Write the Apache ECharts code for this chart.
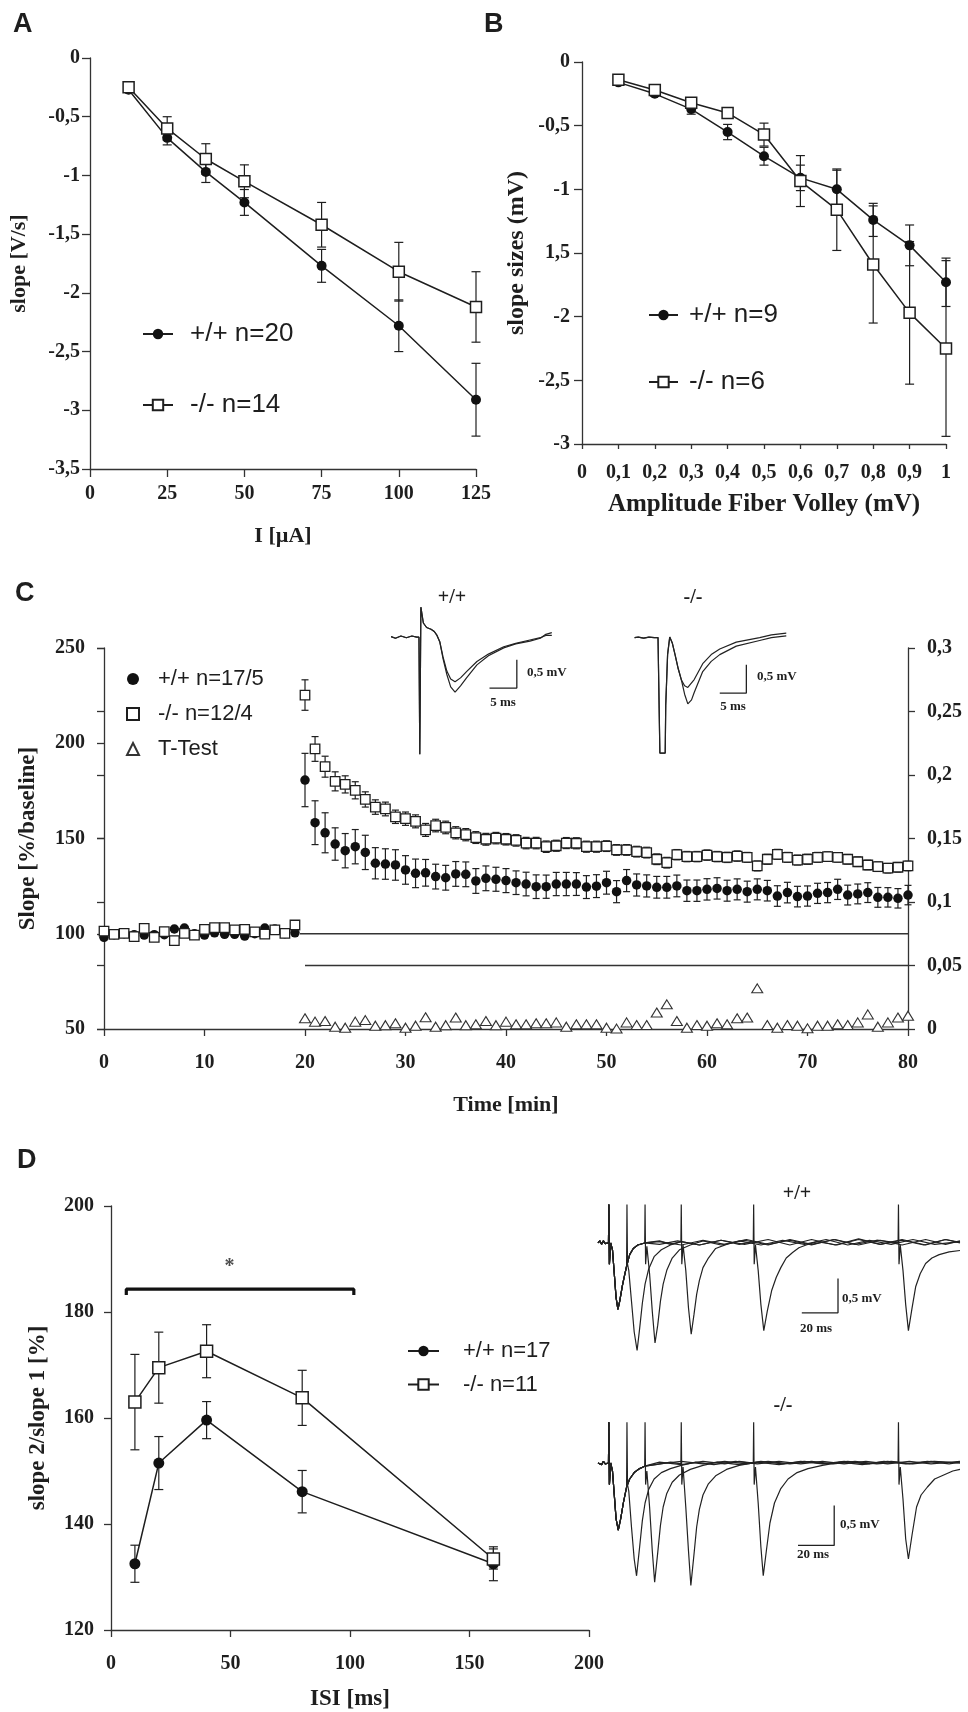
<!DOCTYPE html>
<html><head><meta charset="utf-8">
<script src="https://cdn.jsdelivr.net/npm/echarts@6/dist/echarts.min.js"></script>
<style>html,body{margin:0;padding:0;background:#fff}#c{width:968px;height:1712px}</style>
</head><body><div id="c"></div>
<script>
// ---------------- Panel A ----------------
const xA = [12.5, 25, 37.5, 50, 75, 100, 125];
const wtA = [-0.27, -0.68, -0.97, -1.23, -1.77, -2.28, -2.91];
const wtAerr = [0, 0.06, 0.09, 0.11, 0.14, 0.22, 0.31];
const koA = [-0.25, -0.6, -0.86, -1.05, -1.42, -1.82, -2.12];
const koAerr = [0, 0.1, 0.13, 0.14, 0.19, 0.25, 0.3];
const ticksAy = ['0', '-0,5', '-1', '-1,5', '-2', '-2,5', '-3', '-3,5'];

// ---------------- Panel B ----------------
const xB = [0.1, 0.2, 0.3, 0.4, 0.5, 0.6, 0.7, 0.8, 0.9, 1.0];
const wtB = [-0.16, -0.25, -0.37, -0.55, -0.74, -0.91, -1.0, -1.24, -1.44, -1.73];
const wtBerr = [0.01, 0.02, 0.04, 0.06, 0.07, 0.1, 0.15, 0.13, 0.16, 0.19];
const koB = [-0.14, -0.22, -0.32, -0.4, -0.57, -0.935, -1.16, -1.59, -1.97, -2.25];
const koBerr = [0.01, 0.02, 0.02, 0.02, 0.09, 0.2, 0.32, 0.46, 0.56, 0.69];
const ticksBx = ['0', '0,1', '0,2', '0,3', '0,4', '0,5', '0,6', '0,7', '0,8', '0,9', '1'];
const ticksBy = ['0', '-0,5', '-1', '1,5', '-2', '-2,5', '-3'];

// ---------------- Panel C ----------------
const tC = [0,1,2,3,4,5,6,7,8,9,10,11,12,13,14,15,16,17,18,19,20,21,22,23,24,25,26,27,28,29,30,31,32,33,34,35,36,37,38,39,40,41,42,43,44,45,46,47,48,49,50,51,52,53,54,55,56,57,58,59,60,61,62,63,64,65,66,67,68,69,70,71,72,73,74,75,76,77,78,79,80];
const wtC = [98.1,99.5,100,99.5,99.3,99.5,99.5,102.5,103,100,99.3,100.5,99.7,99.7,98.8,100,103,102.5,100,100.5,
  180.7,158.3,153,147.1,143.6,145.7,142.7,137,136.6,136.1,133.5,131.7,132,130,129.4,131.4,131.2,127.7,129.1,128.6,
  127.9,126.8,126.1,124.7,124.7,126.1,126.1,126.1,124.5,125,
  126.8,122.1,127.9,125.6,125.1,124.4,124.4,125.1,122.6,122.6,123.3,123.8,122.6,123.3,122.1,123.3,122.6,119.8,121.6,119.5,
  119.8,121.2,121.6,123.3,120.3,120.9,121.6,119.1,119.1,118.6,120.3];
const wtCerr = [0,0,0,0,0,0,0,0,0,0,0,0,0,0,0,0,0,0,0,0,
  14,11.5,10.5,8.5,9,9,9,8.2,8,8,7.5,7.5,7,6.5,6.5,6.5,6.5,6.5,6.5,6.3,
  6.3,6.2,6.2,6.2,6.1,6.1,6.1,6,6,6,
  6,5.8,5.8,5.8,5.8,5.7,5.7,5.7,5.6,5.6,5.6,5.6,5.5,5.5,5.5,5.5,5.4,5.4,5.4,5.4,
  5.3,5.3,5.3,5.3,5.2,5.2,5.2,5.2,5.1,5.1,5.1];
const koC = [101.4,99.7,100.2,98.5,102.8,98.1,101.1,96.4,100.2,99.3,102.3,103.2,103.2,102,102.3,101,99.8,102,100.2,104.6,
  225.3,197,187.7,180,178.4,175.3,170.5,166.5,165.5,161.4,160.4,159,154.5,156.8,155.8,153,152,150.5,149.6,150.2,
  149.6,149,147.6,147.6,145.7,146.2,147.6,147.5,145.7,145.7,
  146,144,144,143.1,142.6,139.1,137.3,141.5,140.5,140.5,141.3,140.5,140.1,140.8,140.1,135.6,139.1,141.7,140.1,138.7,
  139.1,140.1,140.5,140.1,139.1,137.8,136.1,135.2,134.4,134.9,135.6];
const koCerr = [0,0,0,0,0,0,0,0,0,0,0,0,0,0,0,0,0,0,0,0,
  8,6.5,5.5,5,4.5,4.5,4,3.8,3.6,3.5,3.5,3.4,3.4,3.3,3.3,3.2,3.2,3.1,3.1,3,
  3,3,3,3,3,2.9,2.9,2.9,2.9,2.9,
  2.8,2.8,2.8,2.8,2.8,2.8,2.8,2.7,2.7,2.7,2.7,2.7,2.7,2.7,2.6,2.6,2.6,2.6,2.6,2.6,
  2.6,2.6,2.5,2.5,2.5,2.5,2.5,2.5,2.5,2.5,2.5];
const tT = [20,21,22,23,24,25,26,27,28,29,30,31,32,33,34,35,36,37,38,39,40,41,42,43,44,45,46,47,48,49,50,51,52,53,54,55,56,57,58,59,60,61,62,63,64,65,66,67,68,69,70,71,72,73,74,75,76,77,78,79,80];
const tTest = [0.0084,0.0058,0.0063,0.0018,0.001,0.0058,0.007,0.0026,0.003,0.0045,0.001,0.0026,0.0092,0.0018,0.003,0.009,0.003,0.0037,0.0063,0.003,
  0.0058,0.0037,0.0037,0.0045,0.0045,0.0052,0.0018,0.0037,0.0037,0.0037,
  0.001,0.0003,0.0052,0.0031,0.0031,0.013,0.0194,0.0063,0.001,0.0031,0.0026,0.0045,0.0037,0.0084,0.009,0.032,0.0031,0.001,0.0031,0.0026,
  0.0005,0.0026,0.0026,0.0037,0.0031,0.0052,0.0115,0.0018,0.0052,0.009,0.0105];
const ticksCr = ['0', '0,05', '0,1', '0,15', '0,2', '0,25', '0,3'];
const refLine100 = [[19.5, 100], [80, 100]];
const refLineP = [[20, 0.05], [80, 0.05]];

// Panel C inset traces (t in ms, mV)
const insWThead = [[-5.3,0.01],[-4.5,-0.02],[-3.5,0.02],[-2.5,-0.01],[-1.5,0.02],[-0.6,0],[-0.2,0],[-0.05,-2.07],[0.05,-2.07],[0.15,0.53],[0.35,0.53],[0.6,0.25],[1.2,0.17],[2,0.14],[2.6,0.1],[3.1,0.03],[3.6,-0.08]];
const insWTtailA = [[4.2,-0.35],[4.9,-0.6],[5.6,-0.74],[6.4,-0.79],[7.4,-0.72],[8.5,-0.61],[10.4,-0.43],[12.5,-0.3],[15.3,-0.17],[17.5,-0.11],[20.1,-0.05],[22,-0.01],[23,0.03],[24.1,0.03]];
const insWTtailB = [[4.2,-0.38],[4.9,-0.66],[5.6,-0.88],[6.4,-0.97],[7.4,-0.86],[8.5,-0.72],[10.4,-0.49],[12.5,-0.33],[15.3,-0.19],[17.5,-0.12],[20.1,-0.07],[22,-0.02],[23,0.05],[24.1,0.08]];
const insWTbar = [[12.7,-0.9],[17.7,-0.9],[17.7,-0.4]];
const insKOhead = [[-4.7,0],[-4,0.01],[-3,-0.01],[-2,0.01],[-1,0],[-0.3,0],[0,0],[0.05,-2.04],[1.05,-2.04],[1.15,-1.2],[1.5,-0.3],[1.9,0.01],[2.4,-0.1],[2.9,-0.3],[3.5,-0.55],[4.1,-0.75]];
const insKOtailA = [[4.7,-0.85],[5.3,-0.88],[6.5,-0.74],[8.1,-0.46],[9.7,-0.3],[11.3,-0.2],[14.4,-0.08],[18.8,0],[21,0.05],[23.8,0.08]];
const insKOtailB = [[4.7,-1.0],[5.3,-1.17],[6,-1.1],[6.5,-0.97],[8.1,-0.6],[9.7,-0.42],[11.3,-0.3],[14.4,-0.15],[18.8,-0.05],[21,0],[23.8,0.03]];
const insKObar = [[11.3,-0.98],[16.3,-0.98],[16.3,-0.48]];

// ---------------- Panel D ----------------
const xD = [10, 20, 40, 80, 160];
const wtD = [132.5, 151.5, 159.6, 146.1, 132.5];
const wtDerr = [3.5, 5, 3.5, 4, 3.2];
const koD = [163, 169.5, 172.6, 163.8, 133.4];
const koDerr = [9, 6.7, 5, 5.2, 1.9];
const sigBar = [[6.4, 183.2], [6.4, 184.3], [101.6, 184.3], [101.6, 183.2]];
const sigStar = [[49.6, 188.6]];

// Panel D paired-pulse traces (t in ms, mV)
const dWThead = [[-6,0],[-5,0.03],[-4,-0.02],[-3,0.03],[-2,-0.01],[-0.2,0],[0,0.56],[0.3,-0.31],[1,0],[2,-0.1],[3,-0.45],[4,-0.8],[5,-0.97],[6,-0.85],[7.5,-0.62],[8.7,-0.47],[9.8,-0.34]];
const dWTcont = [[10,-0.32],[11.5,-0.17],[13.5,-0.08],[16,-0.03],[19.8,0]];
const dWT10 = [[10,0.56],[10.3,-0.31],[11,-0.4],[12.5,-0.85],[14,-1.3],[15.6,-1.57],[17,-1.25],[18.5,-0.88],[20,-0.6],[22,-0.38],[25,-0.2],[29,-0.1],[34,-0.03],[40,0.02],[50,-0.03],[62,0.04],[75,-0.02],[88,0.05],[100,-0.03],[112,0.05],[125,-0.03],[138,0.06],[150,-0.02],[162,0.05],[175,-0.03],[186,0.05],[194,0.01]];
const dWT20 = [[20,0.56],[20.3,-0.31],[21,-0.05],[22.5,-0.45],[24,-1.0],[25.5,-1.46],[27,-1.2],[28.5,-0.85],[30,-0.6],[32,-0.4],[35,-0.22],[39,-0.1],[45,-0.03],[52,0.03],[62,-0.03],[75,0.04],[88,-0.03],[100,0.05],[112,-0.02],[125,0.05],[138,-0.03],[150,0.04],[162,-0.03],[175,0.05],[186,-0.02],[194,0.03]];
const dWT40 = [[28,0.03],[34,-0.02],[39.8,0.02],[40,0.56],[40.3,-0.31],[41,-0.03],[42.5,-0.4],[44,-0.95],[45.5,-1.33],[47,-1.05],[48.5,-0.75],[50,-0.55],[52,-0.36],[55,-0.22],[59,-0.08],[65,-0.02],[72,0.03],[84,-0.03],[96,0.04],[108,-0.02],[120,0.05],[132,-0.03],[144,0.04],[156,-0.02],[168,0.05],[180,-0.02],[194,0.02]];
const dWT80 = [[28,-0.02],[38,0.03],[50,-0.03],[62,0.04],[72,-0.02],[79.8,0.02],[80,0.56],[80.3,-0.31],[81,-0.03],[82.5,-0.4],[84,-0.9],[85.6,-1.28],[87.5,-1.0],[90,-0.69],[92.5,-0.5],[95,-0.36],[98,-0.22],[101.5,-0.14],[105,-0.07],[109,-0.03],[115,0.02],[126,-0.03],[138,0.05],[150,-0.02],[162,0.04],[174,-0.03],[186,0.05],[194,0]];
const dWT160 = [[28,0.02],[40,-0.03],[52,0.04],[64,-0.02],[76,0.05],[88,-0.02],[100,0.04],[112,-0.03],[124,0.05],[136,-0.02],[148,0.04],[159.8,0],[160,0.56],[160.3,-0.31],[161,-0.03],[162.5,-0.4],[164,-0.9],[165.5,-1.28],[167.5,-0.95],[169.5,-0.64],[172,-0.45],[175,-0.3],[178.5,-0.22],[182.5,-0.17],[188,-0.13],[194,-0.11]];
const dWTbar = [[106.6,-1.02],[126.6,-1.02],[126.6,-0.52]];

const dKOhead = [[-6,0],[-5,0.02],[-4,-0.02],[-3,0.02],[-2,-0.01],[-0.2,0],[0,0.51],[0.3,-0.27],[1,0],[2,-0.1],[3,-0.4],[4,-0.7],[5.2,-0.84],[6.5,-0.7],[8,-0.5],[9.8,-0.3]];
const dKOcont = [[11.5,-0.2],[14,-0.12],[17,-0.07],[19.8,-0.04]];
const dKO10 = [[10,0.51],[10.3,-0.27],[11,-0.35],[12.5,-0.8],[14,-1.2],[15.3,-1.41],[17,-1.05],[18.5,-0.72],[20,-0.5],[22,-0.33],[25,-0.2],[29,-0.12],[34,-0.07],[40,-0.03],[48,0.01],[58,-0.02],[70,0.02],[82,-0.01],[94,0.02],[106,-0.01],[118,0.02],[130,-0.01],[142,0.02],[154,-0.01],[166,0.02],[178,-0.01],[194,0.02]];
const dKO20 = [[20,0.51],[20.3,-0.27],[21,-0.1],[22.5,-0.55],[24,-1.1],[25.3,-1.49],[27,-1.12],[28.5,-0.78],[30,-0.55],[32,-0.38],[35,-0.24],[39,-0.15],[45,-0.08],[52,-0.03],[60,0.01],[72,-0.02],[84,0.02],[96,-0.01],[108,0.02],[120,-0.01],[132,0.02],[144,-0.01],[156,0.02],[168,-0.01],[180,0.02],[194,0]];
const dKO40 = [[26,-0.02],[34,0.01],[39.8,-0.01],[40,0.51],[40.3,-0.27],[41,-0.05],[42.5,-0.55],[44,-1.1],[45.3,-1.53],[47,-1.15],[48.5,-0.8],[50,-0.58],[52,-0.4],[55,-0.26],[59,-0.16],[65,-0.08],[72,-0.03],[82,0.01],[94,-0.02],[106,0.02],[118,-0.01],[130,0.02],[142,-0.01],[154,0.02],[166,-0.01],[178,0.02],[194,0]];
const dKO80 = [[28,0.01],[40,-0.02],[52,0.02],[64,-0.01],[72,0.02],[79.8,0],[80,0.51],[80.3,-0.27],[81,-0.05],[82.5,-0.5],[84,-1.05],[85.3,-1.41],[87,-1.1],[89,-0.75],[91.5,-0.5],[95,-0.32],[99,-0.2],[104,-0.12],[110,-0.07],[118,-0.03],[128,0.01],[140,-0.02],[152,0.02],[164,-0.01],[176,0.02],[188,-0.01],[194,0.01]];
const dKO160 = [[28,-0.01],[40,0.02],[52,-0.01],[64,0.02],[76,-0.01],[88,0.02],[100,-0.01],[112,0.02],[124,-0.01],[136,0.02],[148,-0.01],[159.8,0.01],[160,0.51],[160.3,-0.27],[161,-0.05],[162.5,-0.45],[164,-0.95],[165.5,-1.2],[167.5,-0.9],[170,-0.55],[172.5,-0.4],[176,-0.3],[180,-0.2],[185,-0.15],[190,-0.1],[194,-0.08]];
const dKObar = [[104.5,-1.03],[124.5,-1.03],[124.5,-0.53]];

// ---------------- helpers ----------------
const INK = '#1e1e1e';
const SERIF = '"Liberation Serif", "Times New Roman", serif';
const SANS = '"Liberation Sans", Arial, sans-serif';
const tickFont = (s) => ({fontFamily: SERIF, fontWeight: 'bold', fontSize: s, color: INK});
const zip = (xs, ys) => xs.map((x, i) => [x, ys[i]]);

function errBar(id, xi, yi, xs, ys, es, capW) {
  const data = [];
  xs.forEach((x, i) => { if (es[i] > 0) data.push([x, ys[i] - es[i], ys[i] + es[i]]); });
  return {
    type: 'custom', name: id, xAxisIndex: xi, yAxisIndex: yi, data, z: 2, silent: true,
    encode: {x: 0, y: [1, 2]},
    renderItem: (p, api) => {
      const x = api.value(0);
      const a = api.coord([x, api.value(1)]);
      const b = api.coord([x, api.value(2)]);
      const h = capW / 2;
      const st = {stroke: INK, lineWidth: 1.2};
      return {type: 'group', children: [
        {type: 'line', shape: {x1: a[0], y1: a[1], x2: b[0], y2: b[1]}, style: st},
        {type: 'line', shape: {x1: a[0] - h, y1: a[1], x2: a[0] + h, y2: a[1]}, style: st},
        {type: 'line', shape: {x1: b[0] - h, y1: b[1], x2: b[0] + h, y2: b[1]}, style: st}
      ]};
    }
  };
}
function valAxis(o) {
  return Object.assign({
    type: 'value', splitLine: {show: false},
    axisLine: {show: true, onZero: false, lineStyle: {color: '#333', width: 1.3}},
    axisTick: {show: true, length: 7, lineStyle: {color: '#333', width: 1.3}},
    nameTextStyle: {fontFamily: SERIF, fontWeight: 'bold', fontSize: 22, color: INK},
    nameLocation: 'middle'
  }, o);
}
function hidden(gi, min, max) {
  return {type: 'value', gridIndex: gi, min, max, show: false, splitLine: {show: false}};
}
function lineSer(name, xi, yi, xs, ys, filled, size) {
  return {
    type: 'line', name, xAxisIndex: xi, yAxisIndex: yi, data: zip(xs, ys),
    symbol: filled ? 'circle' : 'rect', symbolSize: size, z: filled ? 3 : 4,
    lineStyle: {color: INK, width: 1.5},
    itemStyle: filled ? {color: '#111', borderColor: '#111', borderWidth: 0}
                      : {color: '#fff', borderColor: INK, borderWidth: 1.5},
    animation: false
  };
}
function trace(name, xi, yi, data, w) {
  return {type: 'line', name, xAxisIndex: xi, yAxisIndex: yi, data, symbol: 'none',
    lineStyle: {color: '#222', width: w || 1.2}, z: 3, silent: true};
}
function T(text, x, y, size, opt) {
  opt = opt || {};
  const al = opt.align || 'left';
  return {type: 'text', x, y, silent: true, z: 20,
    style: {text, fill: INK, font: (opt.weight || 'bold') + ' ' + size + 'px ' + (opt.family || SERIF),
      align: al, verticalAlign: 'middle', textAlign: al, textVerticalAlign: 'middle'}};
}
const G = (left, top, width, height) => ({left, top, width, height, containLabel: false, outerBoundsMode: 'none'});

// ---------------- option ----------------
const option = {
  backgroundColor: '#fff',
  animation: false,
  grid: [
    G(90, 58, 386, 411),      // 0 A
    G(582, 62, 364, 382),     // 1 B
    G(104, 648, 804, 381),    // 2 C
    G(390, 606, 164, 150),    // 3 C inset +/+
    G(633, 606.5, 157, 150),  // 4 C inset -/-
    G(111, 1206, 478, 424),   // 5 D
    G(598, 1195, 362, 161),   // 6 D +/+ traces
    G(598, 1415, 362, 176)    // 7 D -/- traces
  ],
  xAxis: [
    valAxis({gridIndex: 0, min: 0, max: 125, interval: 25, name: 'I [µA]', nameGap: 56,
      axisTick: {show: true, length: 8, lineStyle: {color: '#333', width: 1.3}},
      axisLabel: Object.assign({margin: 15}, tickFont(20))}),
    valAxis({gridIndex: 1, min: 0, max: 1, interval: 0.1, name: 'Amplitude Fiber Volley (mV)', nameGap: 48,
      nameTextStyle: {fontFamily: SERIF, fontWeight: 'bold', fontSize: 25, color: INK},
      axisTick: {show: true, length: 5, lineStyle: {color: '#333', width: 1.3}},
      axisLabel: Object.assign({margin: 19, formatter: v => ticksBx[Math.round(v * 10)] || ''}, tickFont(20))}),
    valAxis({gridIndex: 2, min: 0, max: 80, interval: 10, name: 'Time [min]', nameGap: 65,
      axisLabel: Object.assign({margin: 24}, tickFont(20))}),
    hidden(3, -5.5, 24.5),
    hidden(4, -5, 24.5),
    valAxis({gridIndex: 5, min: 0, max: 200, interval: 50, name: 'ISI [ms]', nameGap: 58,
      nameTextStyle: {fontFamily: SERIF, fontWeight: 'bold', fontSize: 23, color: INK},
      axisLabel: Object.assign({margin: 24}, tickFont(20))}),
    hidden(6, -6, 194),
    hidden(7, -6, 194)
  ],
  yAxis: [
    valAxis({gridIndex: 0, min: -3.5, max: 0, interval: 0.5, name: 'slope [V/s]', nameGap: 60,
      axisTick: {show: true, length: 8, lineStyle: {color: '#333', width: 1.3}},
      axisLabel: Object.assign({margin: 10, formatter: v => ticksAy[Math.round(-v / 0.5)] || ''}, tickFont(20))}),
    valAxis({gridIndex: 1, min: -3, max: 0, interval: 0.5, name: 'slope sizes (mV)', nameGap: 53,
      nameTextStyle: {fontFamily: SERIF, fontWeight: 'bold', fontSize: 24, color: INK},
      axisTick: {show: true, length: 8, lineStyle: {color: '#333', width: 1.3}},
      axisLabel: Object.assign({margin: 12, formatter: v => ticksBy[Math.round(-v / 0.5)] || ''}, tickFont(20))}),
    valAxis({gridIndex: 2, min: 50, max: 250, interval: 50, name: 'Slope [%/baseline]', nameGap: 64,
      nameTextStyle: {fontFamily: SERIF, fontWeight: 'bold', fontSize: 23, color: INK},
      axisLabel: Object.assign({margin: 19}, tickFont(20))}),
    valAxis({gridIndex: 2, min: 0, max: 0.3, interval: 0.05, position: 'right',
      axisLabel: Object.assign({margin: 19, formatter: v => ticksCr[Math.round(v / 0.05)] || ''}, tickFont(20))}),
    valAxis({gridIndex: 2, min: 0, max: 0.3, interval: 0.05, position: 'right',
      axisLine: {show: false}, axisLabel: {show: false},
      axisTick: {show: true, inside: true, length: 7, lineStyle: {color: '#333', width: 1.3}}}),
    hidden(3, -2.1, 0.55),
    hidden(4, -2.1, 0.55),
    valAxis({gridIndex: 5, min: 120, max: 200, interval: 20, name: 'slope 2/slope 1 [%]', nameGap: 61,
      nameTextStyle: {fontFamily: SERIF, fontWeight: 'bold', fontSize: 23, color: INK},
      axisLabel: Object.assign({margin: 17}, tickFont(20))}),
    hidden(6, -1.65, 0.7),
    hidden(7, -1.6, 0.6)
  ],
  legend: [
    {left: 137, top: 316, orient: 'vertical', itemWidth: 30, itemHeight: 13, itemGap: 45, selectedMode: false,
      data: ['+/+ n=20', '-/- n=14'],
      textStyle: {fontFamily: SANS, fontSize: 26, color: INK, lineHeight: 26, padding: [0, 0, 0, 12]}},
    {left: 643, top: 297, orient: 'vertical', itemWidth: 29, itemHeight: 13, itemGap: 41, selectedMode: false,
      data: ['+/+ n=9', '-/- n=6'],
      textStyle: {fontFamily: SANS, fontSize: 26, color: INK, lineHeight: 26, padding: [0, 0, 0, 6]}},
    {left: 121, top: 661, orient: 'vertical', itemWidth: 12, itemHeight: 12, itemGap: 9, selectedMode: false,
      data: ['+/+ n=17/5', '-/- n=12/4', 'T-Test'],
      textStyle: {fontFamily: SANS, fontSize: 22, color: INK, lineHeight: 26, padding: [0, 0, 0, 14]}},
    {left: 402, top: 1333, orient: 'vertical', itemWidth: 31, itemHeight: 13, itemGap: 7.5, selectedMode: false,
      data: ['+/+ n=17', '-/- n=11'],
      textStyle: {fontFamily: SANS, fontSize: 22, color: INK, lineHeight: 26, padding: [0, 0, 0, 19]}}
  ],
  series: [
    // A
    errBar('errA1', 0, 0, xA, wtA, wtAerr, 9),
    errBar('errA2', 0, 0, xA, koA, koAerr, 9),
    lineSer('+/+ n=20', 0, 0, xA, wtA, true, 10),
    lineSer('-/- n=14', 0, 0, xA, koA, false, 11),
    // B
    errBar('errB1', 1, 1, xB, wtB, wtBerr, 9),
    errBar('errB2', 1, 1, xB, koB, koBerr, 9),
    lineSer('+/+ n=9', 1, 1, xB, wtB, true, 10),
    lineSer('-/- n=6', 1, 1, xB, koB, false, 11),
    // C
    {type: 'line', name: 'ref100', xAxisIndex: 2, yAxisIndex: 2, data: refLine100, symbol: 'none',
      lineStyle: {color: '#333', width: 1.3}, z: 1, silent: true},
    {type: 'line', name: 'refP', xAxisIndex: 2, yAxisIndex: 3, data: refLineP, symbol: 'none',
      lineStyle: {color: '#333', width: 1.3}, z: 1, silent: true},
    errBar('errC1', 2, 2, tC, wtC, wtCerr, 7),
    errBar('errC2', 2, 2, tC, koC, koCerr, 7),
    {type: 'scatter', name: '+/+ n=17/5', xAxisIndex: 2, yAxisIndex: 2, data: zip(tC, wtC),
      symbol: 'circle', symbolSize: 9.5, itemStyle: {color: '#111', opacity: 1}, z: 3},
    {type: 'scatter', name: '-/- n=12/4', xAxisIndex: 2, yAxisIndex: 2, data: zip(tC, koC),
      symbol: 'rect', symbolSize: 9.5, itemStyle: {color: '#fff', borderColor: INK, borderWidth: 1.3, opacity: 1}, z: 4},
    {type: 'scatter', name: 'T-Test', xAxisIndex: 2, yAxisIndex: 3, data: zip(tT, tTest),
      symbol: 'triangle', symbolSize: [11, 9], itemStyle: {color: '#fff', borderColor: '#333', borderWidth: 1.1, opacity: 1}, z: 4},
    // C insets
    trace('iw1', 3, 5, insWThead.concat(insWTtailA), 1.2),
    trace('iw2', 3, 5, insWThead.concat(insWTtailB), 1.2),
    trace('iwbar', 3, 5, insWTbar, 1.3),
    trace('ik1', 4, 6, insKOhead.concat(insKOtailA), 1.2),
    trace('ik2', 4, 6, insKOhead.concat(insKOtailB), 1.2),
    trace('ikbar', 4, 6, insKObar, 1.3),
    // D
    errBar('errD1', 5, 7, xD, wtD, wtDerr, 9),
    errBar('errD2', 5, 7, xD, koD, koDerr, 9),
    lineSer('+/+ n=17', 5, 7, xD, wtD, true, 11),
    lineSer('-/- n=11', 5, 7, xD, koD, false, 12),
    {type: 'line', name: 'sig', xAxisIndex: 5, yAxisIndex: 7, data: sigBar, symbol: 'none',
      lineStyle: {color: '#111', width: 3.2}, z: 3, silent: true},
    {type: 'scatter', name: 'star', xAxisIndex: 5, yAxisIndex: 7, data: sigStar, symbolSize: 0,
      label: {show: true, position: 'inside', formatter: '*', fontFamily: SERIF, fontWeight: 'bold', fontSize: 20, color: INK}, z: 5, silent: true},
    // D traces
    trace('w10', 6, 8, dWThead.concat(dWT10)),
    trace('w20', 6, 8, dWThead.concat(dWTcont, dWT20)),
    trace('w40', 6, 8, dWThead.concat(dWTcont, dWT40)),
    trace('w80', 6, 8, dWThead.concat(dWTcont, dWT80)),
    trace('w160', 6, 8, dWThead.concat(dWTcont, dWT160)),
    trace('wbar', 6, 8, dWTbar, 1.3),
    trace('k10', 7, 9, dKOhead.concat(dKO10)),
    trace('k20', 7, 9, dKOhead.concat(dKOcont, dKO20)),
    trace('k40', 7, 9, dKOhead.concat(dKOcont, dKO40)),
    trace('k80', 7, 9, dKOhead.concat(dKOcont, dKO80)),
    trace('k160', 7, 9, dKOhead.concat(dKOcont, dKO160)),
    trace('kbar', 7, 9, dKObar, 1.3)
  ],
  graphic: [
    T('A', 13, 25, 27, {family: SANS}),
    T('B', 484, 25, 27, {family: SANS}),
    T('C', 15, 594, 27, {family: SANS}),
    T('D', 17, 1161, 27, {family: SANS}),
    T('+/+', 452, 598, 20, {align: 'center'}),
    T('-/-', 693, 598, 20, {align: 'center'}),
    T('0,5 mV', 527, 673, 13),
    T('5 ms', 503, 703, 13, {align: 'center'}),
    T('0,5 mV', 757, 677, 13),
    T('5 ms', 733, 707, 13, {align: 'center'}),
    T('+/+', 797, 1194, 20, {align: 'center'}),
    T('-/-', 783, 1406, 20, {align: 'center'}),
    T('0,5 mV', 842, 1299, 13),
    T('20 ms', 816, 1329, 13, {align: 'center'}),
    T('0,5 mV', 840, 1525, 13),
    T('20 ms', 813, 1555, 13, {align: 'center'})
  ]
};
const chart = echarts.init(document.getElementById('c'), null, {renderer: 'canvas', width: 968, height: 1712});
chart.setOption(option);
</script></body></html>
